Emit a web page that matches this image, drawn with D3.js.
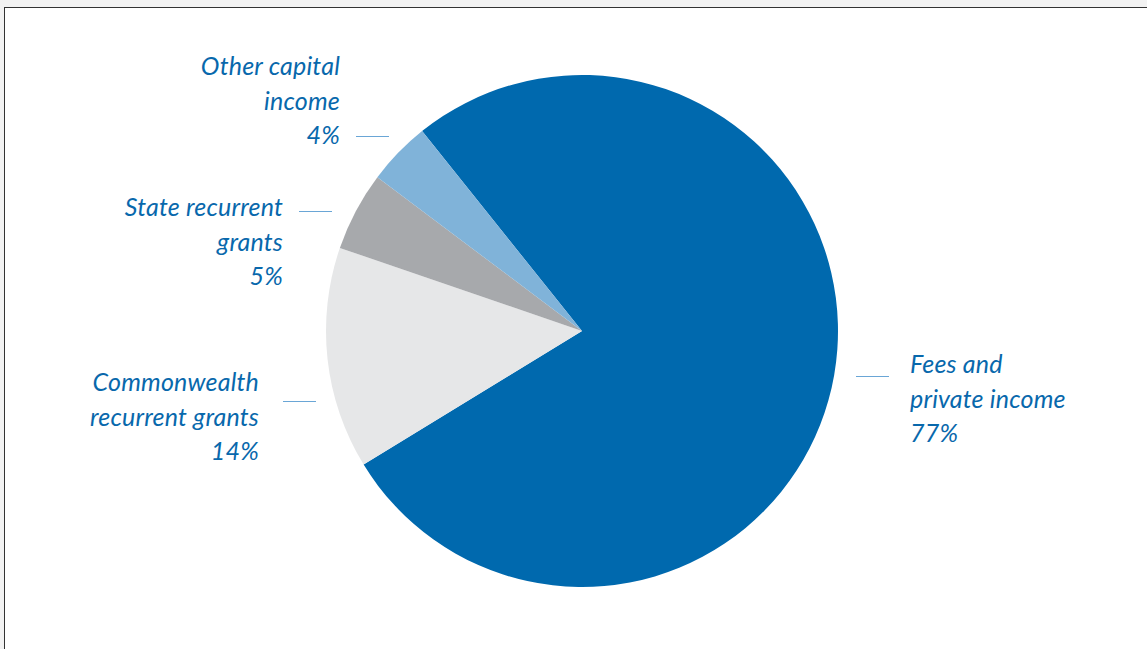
<!DOCTYPE html>
<html>
<head>
<meta charset="utf-8">
<script src="https://d3js.org/d3.v7.min.js"></script>
<style>
  body { margin: 0; background: #f2f2f2; }
  #chart { position: absolute; left: 0; top: 0; }
</style>
</head>
<body>
<div id="chart"></div>
<script>
// data
var categories = [
  ["Fees and", "private income"],
  ["Commonwealth", "recurrent grants"],
  ["State recurrent", "grants"],
  ["Other capital", "income"]
];
var values = [77, 14, 5, 4];
var colors = ["#0069ae", "#e6e7e8", "#a7a9ac", "#80b3d9"];

var W = 1147, H = 649;
var cx = 582, cy = 331, radius = 256;
var textColor = "#0868ac";
var lineColor = "#6aa6d6";

// label placement: anchor x, first baseline y, text-anchor, leader line [x1,x2,y]
var labelPos = [
  { x: 910, y: 373, anchor: "start", line: [856, 889, 376] },
  { x: 259, y: 391, anchor: "end", line: [283, 316, 401] },
  { x: 283, y: 216, anchor: "end", line: [299, 332, 211] },
  { x: 340, y: 75, anchor: "end", line: [356, 389, 136] }
];

var svg = d3.select("#chart").append("svg")
  .attr("width", W).attr("height", H);

// frame
svg.append("rect")
  .attr("x", 4.5).attr("y", 7.5)
  .attr("width", W + 10).attr("height", H + 10)
  .attr("fill", "#ffffff")
  .attr("stroke", "#333333")
  .attr("stroke-width", 1);

var start = Math.atan2(-160, 200);
var pie = d3.pie().sort(null).value(d => d)
  .startAngle(start).endAngle(start + 2 * Math.PI);
var arc = d3.arc().innerRadius(0).outerRadius(radius);

var g = svg.append("g").attr("transform", "translate(" + cx + "," + cy + ")");
g.selectAll("path").data(pie(values)).enter().append("path")
  .attr("d", arc)
  .attr("fill", (d, i) => colors[i]);

// labels
var lab = svg.append("g");
categories.forEach(function(c, i) {
  var p = labelPos[i];
  var lines = c.concat([values[i] + "%"]);
  var t = lab.append("text")
    .attr("text-anchor", p.anchor)
    .attr("font-family", "Lato, 'Open Sans', sans-serif")
    .attr("font-style", "italic")
    .attr("font-size", 25)
    .attr("letter-spacing", 0.2)
    .attr("fill", textColor);
  lines.forEach(function(l, j) {
    t.append("tspan").attr("x", p.x).attr("y", p.y + j * 34.7).text(l);
  });
  lab.append("line")
    .attr("x1", p.line[0]).attr("x2", p.line[1])
    .attr("y1", p.line[2] + 0.5).attr("y2", p.line[2] + 0.5)
    .attr("stroke", lineColor).attr("stroke-width", 1);
});
</script>
</body>
</html>
